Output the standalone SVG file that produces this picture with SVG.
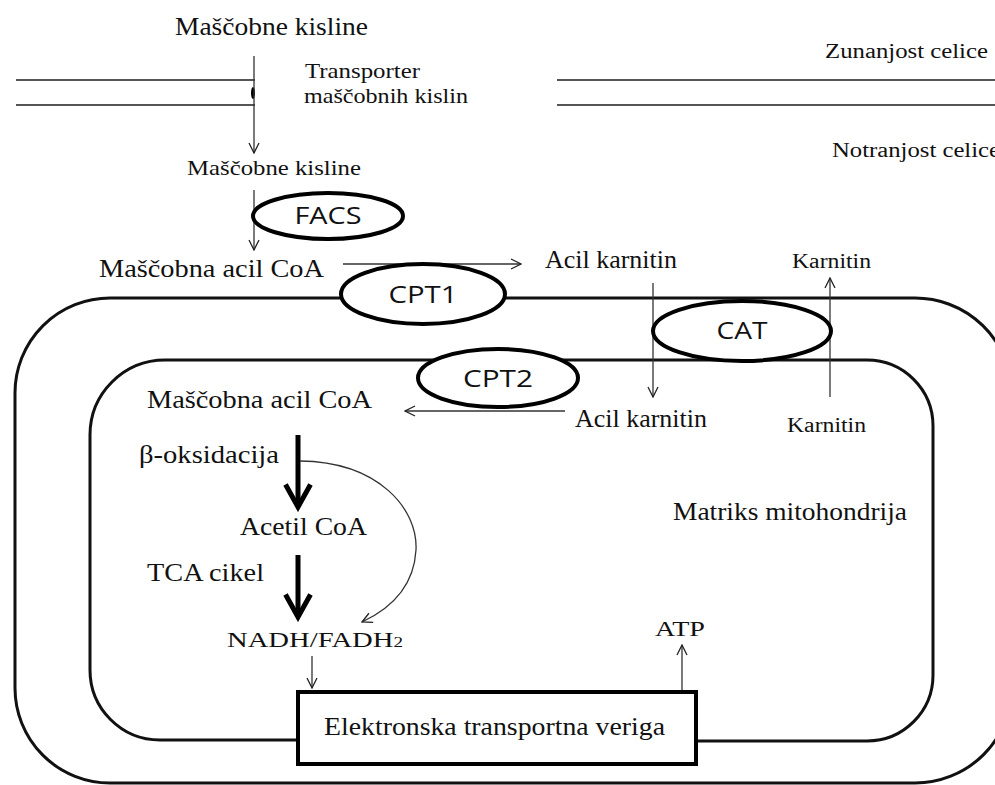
<svg xmlns="http://www.w3.org/2000/svg" width="995" height="785" viewBox="0 0 995 785">
<defs>
<marker id="ah" viewBox="0 0 12 12" refX="11" refY="6" markerWidth="12" markerHeight="12" markerUnits="userSpaceOnUse" orient="auto">
<path d="M1,1 L11,6 L1,11" fill="none" stroke="#222" stroke-width="1.3"/>
</marker>
<marker id="ahb" viewBox="0 0 12 12" refX="10" refY="6" markerWidth="6" markerHeight="6" orient="auto">
<path d="M1,1 L10,6 L1,11" fill="none" stroke="#000" stroke-width="2"/>
</marker>
</defs>
<style>
.t{font-family:"Liberation Serif","Times New Roman",serif;fill:#111}
.s{font-family:"Open Sans","Noto Sans",sans-serif;fill:#111;text-anchor:middle}
.mem{fill:none;stroke:#111;stroke-width:3}
.enz{fill:#fff;stroke:#000;stroke-width:4}
.c{fill:none;stroke:#333;stroke-width:1.3;marker-end:url(#ah)}
.thick{fill:none;stroke:#000;stroke-width:5;marker-end:url(#ahb)}
</style>
<rect width="995" height="785" fill="#fff"/>

<g id="cell-membrane">
<line x1="16" y1="80" x2="255" y2="80" stroke="#555" stroke-width="2"/>
<line x1="16" y1="105" x2="255" y2="105" stroke="#555" stroke-width="2"/>
<line x1="557" y1="80" x2="995" y2="80" stroke="#555" stroke-width="2"/>
<line x1="557" y1="105" x2="995" y2="105" stroke="#555" stroke-width="2"/>
<ellipse cx="253" cy="93" rx="2" ry="6" fill="#000"/>
</g>

<g id="outer-membrane">
<path class="mem" d="M913,298 H110 A95,95 0 0 0 15,393 V688 A95,95 0 0 0 110,783 H915 A97,97 0 0 0 1012,686 V395 A97,97 0 0 0 913,298"/>
</g>
<g id="inner-membrane">
<path class="mem" d="M297,740 H160 A70,70 0 0 1 90,670 V435 A75,75 0 0 1 165,360 H867 A66,66 0 0 1 933,426 V675 A66,66 0 0 1 867,741 H698"/>
</g>

<g id="labels">
<text class="t" x="175" y="35" font-size="25" textLength="193" lengthAdjust="spacingAndGlyphs">Maščobne kisline</text>
<text class="t" x="305" y="78" font-size="21" textLength="115" lengthAdjust="spacingAndGlyphs">Transporter</text>
<text class="t" x="304" y="103" font-size="21" textLength="164" lengthAdjust="spacingAndGlyphs">maščobnih kislin</text>
<text class="t" x="825" y="58" font-size="20" textLength="163" lengthAdjust="spacingAndGlyphs">Zunanjost celice</text>
<text class="t" x="832" y="157" font-size="20" textLength="168" lengthAdjust="spacingAndGlyphs">Notranjost celice</text>
<text class="t" x="673" y="520" font-size="25" textLength="234" lengthAdjust="spacingAndGlyphs">Matriks mitohondrija</text>
</g>

<g id="connectors">
<line class="c" x1="254" y1="56" x2="254" y2="153"/>
<line class="c" x1="254" y1="190" x2="254" y2="250"/>
<line class="c" x1="343" y1="264" x2="521" y2="264"/>
<line class="c" x1="653" y1="283" x2="653" y2="397"/>
<line class="c" x1="830" y1="397" x2="830" y2="278"/>
<line class="c" x1="565" y1="411" x2="405" y2="411"/>
<line class="thick" x1="298" y1="435" x2="298" y2="507"/>
<line class="thick" x1="298" y1="555" x2="298" y2="617"/>
<path class="c" d="M300,461 C380,462 418,510 416,550 C414,585 392,608 362,622"/>
<line class="c" x1="312" y1="656" x2="312" y2="688"/>
<line class="c" x1="682" y1="690" x2="682" y2="645"/>
</g>

<g id="fa2"><text class="t" x="187" y="175" font-size="21" textLength="174" lengthAdjust="spacingAndGlyphs">Maščobne kisline</text></g>
<g id="facs"><ellipse class="enz" cx="328" cy="216" rx="75" ry="23"/><text class="s" x="328" y="224" font-size="24" textLength="67" lengthAdjust="spacingAndGlyphs">FACS</text></g>
<g id="acoa1"><text class="t" x="99" y="277" font-size="26" textLength="225" lengthAdjust="spacingAndGlyphs">Maščobna acil CoA</text></g>
<g id="cpt1"><ellipse class="enz" cx="423" cy="294" rx="82" ry="30"/><text class="s" x="423" y="303" font-size="23" textLength="69" lengthAdjust="spacingAndGlyphs">CPT1</text></g>
<g id="ak1"><text class="t" x="545" y="268" font-size="26" textLength="132" lengthAdjust="spacingAndGlyphs">Acil karnitin</text></g>
<g id="k1"><text class="t" x="792" y="268" font-size="20" textLength="79" lengthAdjust="spacingAndGlyphs">Karnitin</text></g>
<g id="cat"><ellipse class="enz" cx="742" cy="331" rx="89" ry="30"/><text class="s" x="742" y="339" font-size="23" textLength="51" lengthAdjust="spacingAndGlyphs">CAT</text></g>
<g id="cpt2"><ellipse class="enz" cx="498" cy="378" rx="80" ry="29"/><text class="s" x="498" y="387" font-size="23" textLength="70" lengthAdjust="spacingAndGlyphs">CPT2</text></g>
<g id="ak2"><text class="t" x="575" y="427" font-size="26" textLength="132" lengthAdjust="spacingAndGlyphs">Acil karnitin</text></g>
<g id="k2"><text class="t" x="787" y="432" font-size="20" textLength="79" lengthAdjust="spacingAndGlyphs">Karnitin</text></g>
<g id="acoa2"><text class="t" x="147" y="408" font-size="26" textLength="225" lengthAdjust="spacingAndGlyphs">Maščobna acil CoA</text></g>
<g id="box"><text class="t" x="139" y="463" font-size="26" textLength="140" lengthAdjust="spacingAndGlyphs">β-oksidacija</text></g>
<g id="acetil"><text class="t" x="240" y="535" font-size="26" textLength="127" lengthAdjust="spacingAndGlyphs">Acetil CoA</text></g>
<g id="tca"><text class="t" x="147" y="581" font-size="26" textLength="117" lengthAdjust="spacingAndGlyphs">TCA cikel</text></g>
<g id="nadh"><text class="t" x="227" y="647" font-size="21" textLength="176" lengthAdjust="spacingAndGlyphs">NADH/FADH<tspan font-size="14">2</tspan></text></g>
<g id="atp"><text class="t" x="655" y="636" font-size="21" textLength="50" lengthAdjust="spacingAndGlyphs">ATP</text></g>
<g id="etc"><rect x="298" y="692" width="398" height="72" fill="#fff" stroke="#000" stroke-width="4"/><text class="t" x="324" y="735" font-size="25" textLength="341" lengthAdjust="spacingAndGlyphs">Elektronska transportna veriga</text></g>
</svg>
